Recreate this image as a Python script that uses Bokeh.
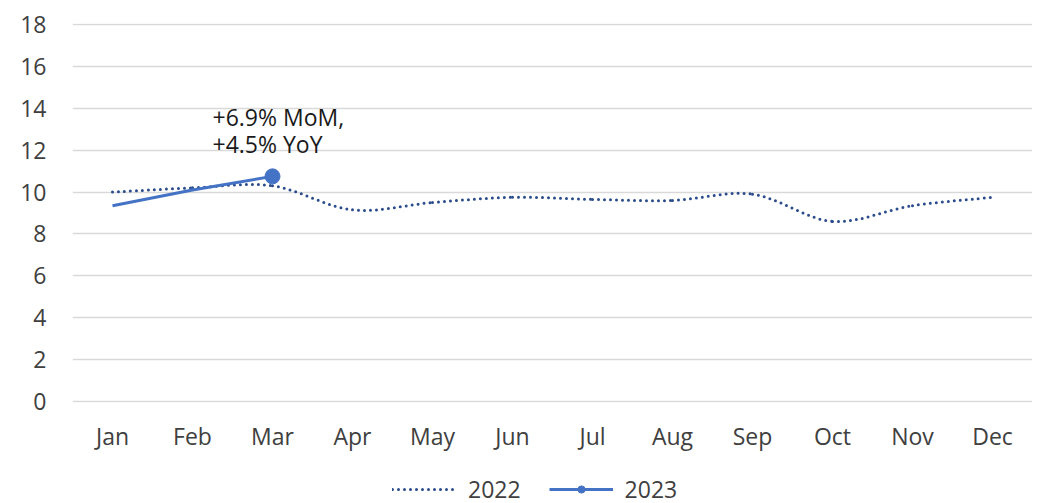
from bokeh.plotting import figure
from bokeh.models import FactorRange, Range1d, Legend, LegendItem, FixedTicker
from bokeh.layouts import column
from bokeh.core.properties import value
from bokeh.embed import file_html
from bokeh.resources import INLINE

months = ["Jan", "Feb", "Mar", "Apr", "May", "Jun", "Jul", "Aug", "Sep", "Oct", "Nov", "Dec"]
values_2022 = [10.0, 10.2, 10.3, 9.15, 9.5, 9.75, 9.65, 9.6, 9.9, 8.6, 9.35, 9.75]
months_2023 = ["Jan", "Feb", "Mar"]
values_2023 = [9.35, 10.1, 10.75]
annotation = "+6.9% MoM,\n+4.5% YoY"
y_ticks = [0, 2, 4, 6, 8, 10, 12, 14, 16, 18]
series_labels = ["2022", "2023"]

FONT = "Open Sans"
FS = "23px"
C2022 = "#2B4C8C"
C2023 = "#4472C4"

p = figure(x_range=FactorRange(*months), y_range=Range1d(-0.05, 18.05),
           output_backend="svg", toolbar_location=None,
           width=1032, height=462, frame_width=960, frame_height=379,
           min_border_left=72, min_border_right=0, min_border_top=23, min_border_bottom=60)
p.outline_line_color = None
p.background_fill_color = "white"
p.border_fill_color = "white"

# axes
p.xaxis.axis_line_color = None
p.yaxis.axis_line_color = None
p.xaxis.major_tick_line_color = None
p.yaxis.major_tick_line_color = None
p.yaxis.minor_tick_line_color = None
p.xaxis.major_tick_out = 0
p.xaxis.major_label_text_font = FONT
p.yaxis.major_label_text_font = FONT
p.xaxis.major_label_text_font_size = FS
p.yaxis.major_label_text_font_size = FS
p.xaxis.major_label_text_color = "#404040"
p.yaxis.major_label_text_color = "#404040"
p.yaxis.ticker = FixedTicker(ticks=y_ticks)
p.yaxis.major_label_standoff = 20
p.xaxis.major_label_standoff = 17
p.xgrid.grid_line_color = None
p.ygrid.grid_line_color = "#D9D9D9"
p.ygrid.grid_line_width = 1.5

# smoothed 2022 line via bezier segments (Catmull-Rom control points from data)
n = len(values_2022)
xs = [i + 0.5 for i in range(n)]
x0, y0, x1, y1, cx0, cy0, cx1, cy1 = [], [], [], [], [], [], [], []
for i in range(n - 1):
    im1 = max(i - 1, 0)
    ip2 = min(i + 2, n - 1)
    x0.append(xs[i]); y0.append(values_2022[i])
    x1.append(xs[i + 1]); y1.append(values_2022[i + 1])
    cx0.append(xs[i] + (xs[i + 1] - xs[im1]) / 6)
    cy0.append(values_2022[i] + (values_2022[i + 1] - values_2022[im1]) / 6)
    cx1.append(xs[i + 1] - (xs[ip2] - xs[i]) / 6)
    cy1.append(values_2022[i + 1] - (values_2022[ip2] - values_2022[i]) / 6)
p.bezier(x0=x0, y0=y0, x1=x1, y1=y1, cx0=cx0, cy0=cy0, cx1=cx1, cy1=cy1,
         line_color=C2022, line_width=3, line_dash="0 6", line_cap="round")

# 2023
p.line(x=months_2023, y=values_2023, line_color=C2023, line_width=3)
p.scatter(x=[months_2023[-1]], y=[values_2023[-1]], size=15,
          fill_color=C2023, line_color=C2023)

p.text(x=[months_2023[-1]], y=[values_2023[-1]], text=[annotation],
       x_offset=-60, y_offset=-75, text_font=value(FONT), text_font_size=FS,
       text_color="#1a1a1a", text_align="left", text_baseline="top",
       text_line_height=0.83)

# legend strip below the chart (series drawn out of its view, only the legend shows)
lg = figure(width=1032, height=41, x_range=Range1d(0, 0.01), y_range=Range1d(0, 0.01),
            output_backend="svg", toolbar_location=None,
            x_axis_type=None, y_axis_type=None,
            min_border_left=0, min_border_right=0, min_border_top=0, min_border_bottom=0)
lg.outline_line_color = None
lg.xgrid.grid_line_color = None
lg.ygrid.grid_line_color = None
l22 = lg.line(x=xs, y=values_2022, line_color=C2022, line_width=3, line_dash="0 6", line_cap="round")
l23 = lg.line(x=xs[:len(values_2023)], y=values_2023, line_color=C2023, line_width=3)
s23 = lg.scatter(x=[xs[len(values_2023) - 1]], y=[values_2023[-1]], size=15,
                 fill_color=C2023, line_color=C2023)
legend = Legend(items=[LegendItem(label=series_labels[0], renderers=[l22]),
                       LegendItem(label=series_labels[1], renderers=[l23, s23])],
                orientation="horizontal", location=(320, -2),
                label_text_font=FONT, label_text_font_size=FS,
                label_text_color="#404040", glyph_width=64, glyph_height=18,
                spacing=28, label_standoff=12, border_line_color=None,
                background_fill_alpha=0, padding=0, margin=0)
lg.add_layout(legend, "center")

layout = column(p, lg, spacing=0)
open("out.html", "w").write(file_html(layout, INLINE))
